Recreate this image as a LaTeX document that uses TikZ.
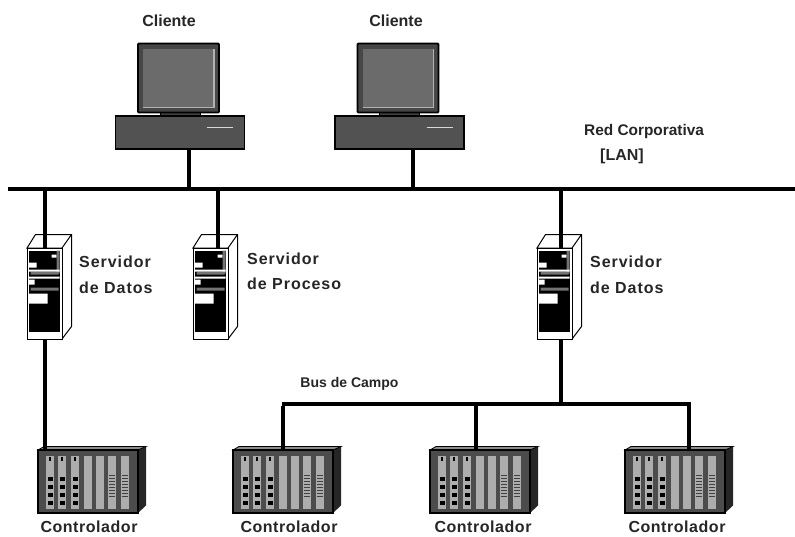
\documentclass[tikz,border=0pt]{standalone}
\usepackage{fontspec}
\setmainfont{Liberation Sans}
\begin{document}
\begin{tikzpicture}[
    x=1pt, y=-1pt,
    label/.style={font=\bfseries\fontsize{16}{25.5}\selectfont, text=black!85, align=left, inner sep=0pt},
    widelabel/.style={label, font=\bfseries\fontsize{16}{25.5}\selectfont\addfontfeatures{LetterSpace=6}},
    ctrllabel/.style={label, font=\bfseries\fontsize{16}{18}\selectfont\addfontfeatures{LetterSpace=3.4}},
    smalllabel/.style={label, font=\bfseries\fontsize{14}{16}\selectfont},
    wire/.style={draw=black, line width=3.6pt},
    busbar/.style={fill=black, inner sep=0pt, minimum height=4.4pt},
    pcbox/.style={draw=black, line width=1.6pt, fill=black!68, inner sep=0pt, minimum width=129pt, minimum height=33pt},
    towerbox/.style={draw=black, line width=1pt, fill=white, inner sep=0pt, minimum width=35pt, minimum height=91pt},
    rackbox/.style={draw=black, line width=1.2pt, fill=black!70, inner sep=0pt, minimum width=100pt, minimum height=63pt},
    pc/.pic={
        \fill [black!75, draw=black, line width=1pt] (-20,-20) -- (20,-20) -- (20,-14) -- (-20,-14) -- cycle;
        \draw [fill=black!72, draw=black, line width=1.8pt, rounded corners=1pt] (-42,-89) rectangle (39,-20);
        \fill [black!58] (-37,-84) rectangle (34,-25);
        \draw [black!30, line width=1.2pt] (-37,-25) -- (34,-25) -- (34,-84);
        \node (-base) [pcbox] at (0,0) {};
        \draw [white!85!black, line width=1.2pt] (27,-5) -- (53,-5);
    },
    tower/.pic={
        \draw [fill=white, draw=black, line width=1pt] (-17.5,-45.5) -- (-9,-59) -- (27,-59) -- (27,33) -- (17.5,45.5) -- (17.5,-45.5) -- cycle;
        \node (-body) [towerbox] at (0,0) {};
        \draw [draw=black, line width=1pt] (17.5,-45.5) -- (27,-59);
        \fill [black] (-16,-43) rectangle (15,38);
        \fill [white] (-16,-31) rectangle (-8,-26) (-16,-14) rectangle (-10,-9) (-16,0) rectangle (3,10) (7,-39) rectangle (12,-36);
        \fill [black!55] (-14,-22) rectangle (14,-19) (-14,-6) rectangle (14,-3) (12,-43) rectangle (15,-20);
        \fill [white] (-16,-24) rectangle (15,-22) (-16,-17) rectangle (15,-15);
    },
    rack/.pic={
        \fill [black!85] (50,-31.5) -- (58,-35) -- (58,24) -- (50,31.5) -- cycle;
        \fill [black!45, draw=black, line width=0.8pt] (-50,-31.5) -- (-44,-35) -- (58,-35) -- (50,-31.5) -- cycle;
        \node (-body) [rackbox] at (0,0) {};
        \foreach \px/\marks in {-42/1, -30/1, -17/1, -4/0, 8/0, 20/2, 33/2} {
            \fill [black!32] (\px,-26) rectangle ++(7.5,53);
            \ifnum\marks=1
                \foreach \py in {-5,3,11,19} \fill [black] (\px+1.5,\py) rectangle ++(5,4);
                \fill [black] (\px+2.5,-25) rectangle ++(2.5,4);
            \fi
            \ifnum\marks=2
                \foreach \py in {-7,-4,...,14} \fill [black!75] (\px+1,\py) rectangle ++(5.5,1.2);
            \fi
        }
    }
]
\useasboundingbox [fill=white] (0,0) rectangle (795,536);

\node (lan) [busbar, minimum width=787pt] at (401.5,189) {};
\node (campo) [busbar, minimum width=409pt] at (486,404) {};

\pic (cliente1) at (180,132.5) {pc};
\pic (cliente2) at (399.5,132.5) {pc};

\pic (datos1) at (44.5,293.5) {tower};
\pic (proceso) at (210.5,293.5) {tower};
\pic (datos2) at (554.5,293.5) {tower};

\pic (ctrl1) at (88,481.5) {rack};
\pic (ctrl2) at (283,481.5) {rack};
\pic (ctrl3) at (480,481.5) {rack};
\pic (ctrl4) at (675,481.5) {rack};

\node (lbl1) [label] at (169,21) {Cliente};
\node (lbl2) [label] at (396,21) {Cliente};
\node (lblred) [smalllabel, font=\bfseries\fontsize{15.4}{18}\selectfont, anchor=west] at (584,132) {Red Corporativa};
\node (lbllan) [label, anchor=west] at (600,156) {[LAN]};
\node (lbld1) [widelabel, anchor=west] at (79,275) {Servidor\\de Datos};
\node (lblp) [widelabel, anchor=west] at (247,271.5) {Servidor\\de Proceso};
\node (lbld2) [widelabel, anchor=west] at (590,275) {Servidor\\de Datos};
\node (lblbus) [smalllabel] at (349.5,384) {Bus de Campo};
\node (lblc1) [ctrllabel] at (89,527) {Controlador};
\node (lblc2) [ctrllabel] at (289,527) {Controlador};
\node (lblc3) [ctrllabel] at (483,527) {Controlador};
\node (lblc4) [ctrllabel] at (677,527) {Controlador};

\draw [wire] (189,0 |- cliente1-base.south) -- (189,0 |- lan.north);
\draw [wire] (413,0 |- cliente2-base.south) -- (413,0 |- lan.north);
\draw [wire] (45,0 |- lan.south) -- (45,0 |- datos1-body.north);
\draw [wire] (218,0 |- lan.south) -- (218,0 |- proceso-body.north);
\draw [wire] (561,0 |- lan.south) -- (561,0 |- datos2-body.north);
\draw [wire] (45,0 |- datos1-body.south) -- (45,0 |- ctrl1-body.north);
\draw [wire] (561,0 |- datos2-body.south) -- (561,0 |- campo.north);
\draw [wire] (283,0 |- campo.south) -- (283,0 |- ctrl2-body.north);
\draw [wire] (476,0 |- campo.south) -- (476,0 |- ctrl3-body.north);
\draw [wire] (689,0 |- campo.south) -- (689,0 |- ctrl4-body.north);
\end{tikzpicture}
\end{document}
